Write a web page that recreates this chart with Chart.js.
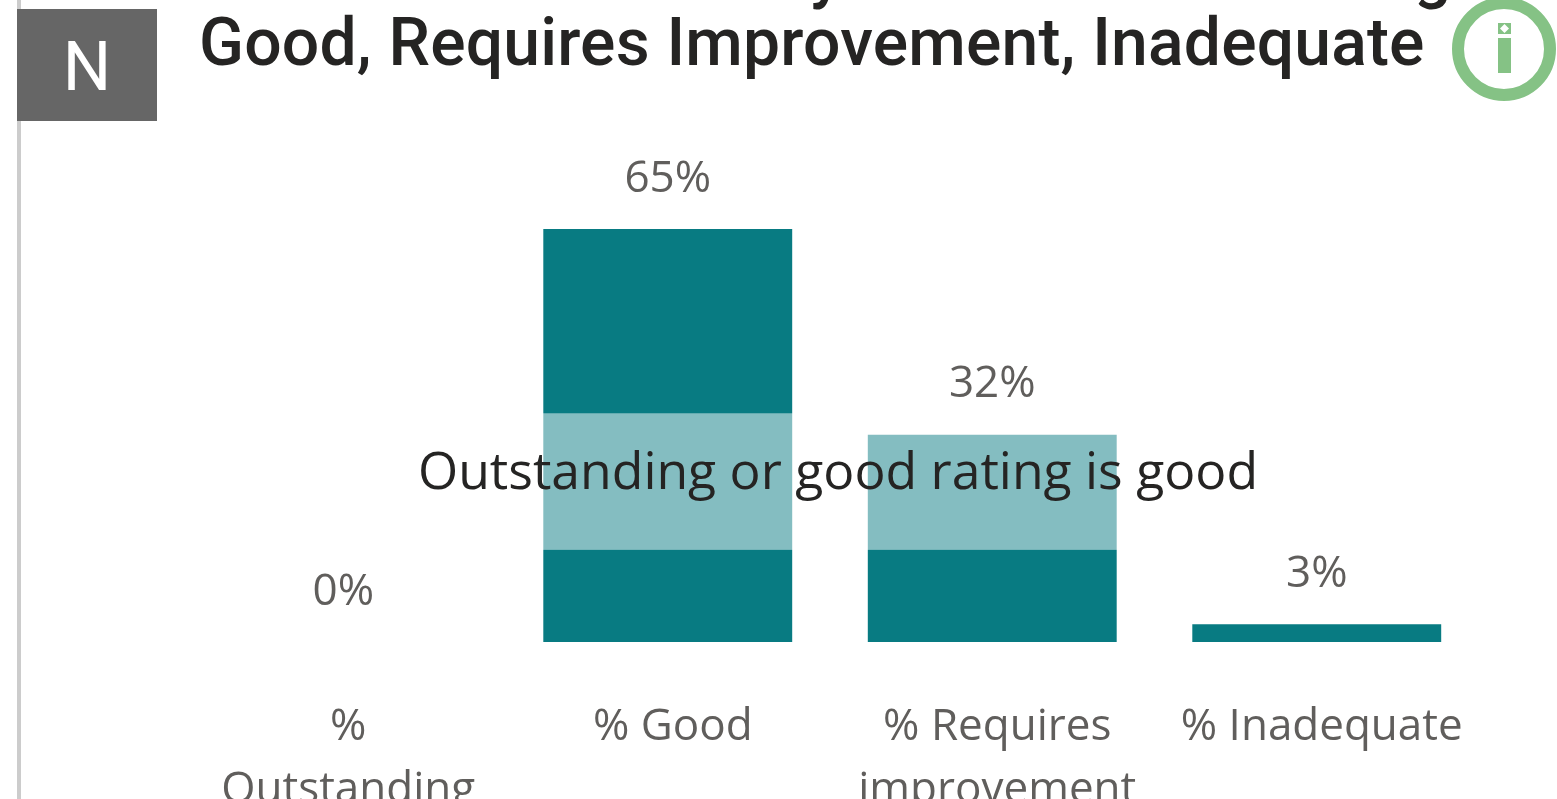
<!DOCTYPE html>
<html>
<head>
<meta charset="utf-8">
<title>Ratings chart</title>
<script src="https://cdn.jsdelivr.net/npm/chart.js@4"></script>
<style>
  html, body { margin: 0; padding: 0; width: 1557px; height: 799px; overflow: hidden; background: #fff; }
  #rule { position: absolute; left: 17px; top: 0; width: 4px; height: 799px; background: #cccccc; }
  #badge { position: absolute; left: 17px; top: 9px; width: 140px; height: 112px; background: #666666; color: #fff;
    font: 400 68px/116px Roboto, sans-serif; text-align: center; }
  .title { position: absolute; color: #252423; white-space: nowrap; font: 500 66px/70px Roboto, sans-serif; }
  #title { left: 199px; top: 8px; letter-spacing: 0.2px; }
  #icon { position: absolute; left: 1451px; top: 0; }
  #wrap { position: absolute; left: 0; top: 0; width: 1557px; height: 799px; }
</style>
</head>
<body>
<div id="wrap"><canvas id="chart" width="1557" height="799"></canvas></div>
<div id="rule"></div>
<div id="badge">N</div>
<div class="title" style="left:810px;top:-62px">y</div>
<div class="title" style="left:1414px;top:-62px">g</div>
<div class="title" id="title">Good, Requires Improvement, Inadequate</div>
<svg id="icon" width="106" height="104">
  <circle cx="53" cy="49" r="46" fill="none" stroke="#85c285" stroke-width="12"/>
  <rect x="47" y="23" width="13" height="11" fill="#85c285"/>
  <polygon points="53.5,24 58,28.5 53.5,33 49,28.5" fill="#fff"/>
  <rect x="47" y="38" width="13" height="35" fill="#85c285"/>
</svg>
<script>
const categories = [["%", "Outstanding"], "% Good", ["% Requires", "improvement"], "% Inadequate"];
const percentValues = [0, 65, 32.6, 2.8];
const valueLabels = ["0%", "65%", "32%", "3%"];
const targetBand = [14.5, 36];
const bandLabel = "Outstanding or good rating is good";

const overlayPlugin = {
  id: "overlay",
  afterDatasetsDraw(chart) {
    const { ctx, chartArea, scales } = chart;
    const top = scales.y.getPixelForValue(targetBand[1]);
    const bottom = scales.y.getPixelForValue(targetBand[0]);

    ctx.save();
    ctx.fillStyle = "rgba(255,255,255,0.5)";
    ctx.fillRect(chartArea.left, top, chartArea.right - chartArea.left, bottom - top);

    // values above the bars
    ctx.font = "400 44px 'Open Sans', sans-serif";
    ctx.fillStyle = "#605e5c";
    ctx.textAlign = "center";
    ctx.textBaseline = "middle";
    chart.getDatasetMeta(0).data.forEach((bar, i) => {
      ctx.fillText(valueLabels[i], bar.x, bar.y - 50);
    });

    ctx.font = "400 51.7px 'Open Sans', sans-serif";
    ctx.fillStyle = "#252423";
    ctx.fillText(bandLabel, (chartArea.left + chartArea.right) / 2 + 8, (top + bottom) / 2 - 7);
    ctx.restore();
  },
};

new Chart(document.getElementById("chart"), {
  type: "bar",
  data: {
    labels: categories,
    datasets: [
      {
        data: percentValues,
        backgroundColor: "#087b82",
        barPercentage: 1,
        categoryPercentage: 0.767,
      },
    ],
  },
  options: {
    responsive: false,
    animation: false,
    layout: { padding: { left: 181, right: 78, top: 229, bottom: 0 } },
    plugins: { legend: { display: false }, tooltip: { enabled: false } },
    scales: {
      x: {
        // labels run off the bottom of the page, so hold the axis height fixed
        afterFit(scale) {
          scale.height = 157;
        },
        grid: { display: false },
        border: { display: false },
        ticks: {
          color: "#605e5c",
          font: { family: "'Open Sans', sans-serif", size: 44, weight: 400, lineHeight: 1.43 },
          maxRotation: 0,
          autoSkip: false,
          labelOffset: 5,
          padding: 46,
        },
      },
      y: { display: false, min: 0, max: 65 },
    },
  },
  plugins: [overlayPlugin],
});
</script>
</body>
</html>
